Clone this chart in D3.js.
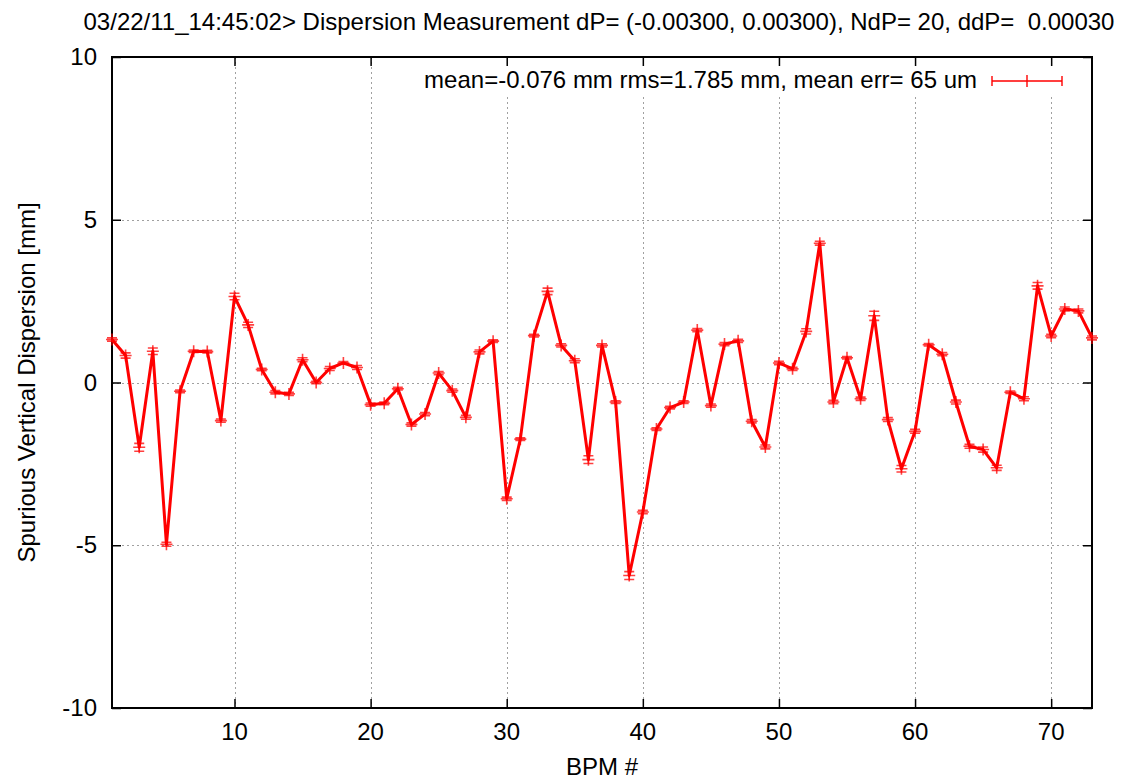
<!DOCTYPE html>
<html>
<head>
<meta charset="utf-8">
<script src="https://cdn.jsdelivr.net/npm/d3@7"></script>
<style>
  body { margin: 0; background: #fff; }
  svg { font-family: "Liberation Sans", Arial, sans-serif; }
</style>
</head>
<body>
<div id="chart"></div>
<script>
// BPM index and measured spurious vertical dispersion [mm]
const bpm = d3.range(1, 74);
const dispersion = [
  1.32, 0.83, -1.99, 0.96, -4.97, -0.27, 0.96, 0.95, -1.17, 2.64,
  1.77, 0.40, -0.30, -0.35, 0.70, 0.00, 0.43, 0.60, 0.46, -0.68,
  -0.64, -0.19, -1.29, -0.97, 0.29, -0.25, -1.07, 0.94, 1.27, -3.57,
  -1.74, 1.44, 2.80, 1.14, 0.67, -2.37, 1.14, -0.60, -5.93, -3.98,
  -1.43, -0.77, -0.60, 1.61, -0.71, 1.18, 1.28, -1.19, -1.98, 0.60,
  0.42, 1.57, 4.28, -0.60, 0.76, -0.50, 2.05, -1.14, -2.65, -1.50,
  1.16, 0.87, -0.60, -1.96, -2.06, -2.62, -0.30, -0.50, 2.97, 1.43,
  2.26, 2.20, 1.37
];
const errors = [
  0.05, 0.08, 0.12, 0.10, 0.06, 0.04, 0.04, 0.04, 0.05, 0.10,
  0.08, 0.04, 0.05, 0.05, 0.06, 0.04, 0.06, 0.04, 0.06, 0.05,
  0.04, 0.04, 0.05, 0.05, 0.05, 0.05, 0.06, 0.06, 0.04, 0.05,
  0.04, 0.04, 0.10, 0.05, 0.06, 0.12, 0.05, 0.04, 0.12, 0.05,
  0.04, 0.04, 0.04, 0.05, 0.05, 0.05, 0.05, 0.05, 0.06, 0.05,
  0.05, 0.08, 0.06, 0.05, 0.04, 0.05, 0.14, 0.06, 0.10, 0.06,
  0.04, 0.05, 0.06, 0.06, 0.08, 0.08, 0.04, 0.06, 0.10, 0.05,
  0.06, 0.06, 0.06
];
const xTicks = [10, 20, 30, 40, 50, 60, 70];
const yTicks = [-10, -5, 0, 5, 10];

const title = "03/22/11_14:45:02> Dispersion Measurement dP= (-0.00300, 0.00300), NdP= 20, ddP=  0.00030";
const legendLabel = "mean=-0.076 mm rms=1.785 mm, mean err= 65 um";

const width = 1140, height = 780;
const margin = { top: 57, right: 48, bottom: 72, left: 112 };
const fs = 24;

const x = d3.scaleLinear().domain([1, 73]).range([margin.left, width - margin.right]);
const y = d3.scaleLinear().domain([-10, 10]).range([height - margin.bottom, margin.top]);

const svg = d3.select('#chart').append('svg')
  .attr('width', width)
  .attr('height', height);

// grid
const grid = svg.append('g').attr('stroke', '#a0a0a0').attr('stroke-width', 1)
  .attr('stroke-dasharray', '2,3');
grid.selectAll('.gx').data(xTicks).join('line')
  .attr('x1', d => Math.round(x(d)) + 0.5).attr('x2', d => Math.round(x(d)) + 0.5)
  .attr('y1', y(10)).attr('y2', y(-10));
grid.selectAll('.gy').data(yTicks.filter(d => Math.abs(d) < 10)).join('line')
  .attr('y1', d => Math.round(y(d)) + 0.5).attr('y2', d => Math.round(y(d)) + 0.5)
  .attr('x1', x(1)).attr('x2', x(73));

// legend box background hides the grid behind it
svg.append('rect')
  .attr('x', 408).attr('y', 67).attr('width', 662).attr('height', 28)
  .attr('fill', '#fff');

// axes: ticks inward, mirrored on all sides
const tickLen = 9;
const axisG = svg.append('g');
axisG.append('g')
  .attr('transform', `translate(0,${y(-10)})`)
  .call(d3.axisTop(x).tickValues(xTicks).tickSize(tickLen).tickFormat(''));
axisG.append('g')
  .attr('transform', `translate(0,${y(10)})`)
  .call(d3.axisBottom(x).tickValues(xTicks).tickSize(tickLen).tickFormat(''));
axisG.append('g')
  .attr('transform', `translate(${x(1)},0)`)
  .call(d3.axisRight(y).tickValues(yTicks).tickSize(tickLen).tickFormat(''));
axisG.append('g')
  .attr('transform', `translate(${x(73)},0)`)
  .call(d3.axisLeft(y).tickValues(yTicks).tickSize(tickLen).tickFormat(''));
axisG.selectAll('.domain').remove();
axisG.selectAll('.tick line').attr('stroke', '#000').attr('stroke-width', 1.5);

// tick labels
svg.append('g').selectAll('text').data(xTicks).join('text')
  .attr('x', d => x(d)).attr('y', 740)
  .attr('text-anchor', 'middle')
  .attr('font-size', fs)
  .text(d => d);
svg.append('g').selectAll('text').data(yTicks).join('text')
  .attr('x', 97).attr('y', d => y(d) + 8)
  .attr('text-anchor', 'end')
  .attr('font-size', fs)
  .text(d => d);

// frame
svg.append('rect')
  .attr('x', x(1)).attr('y', y(10))
  .attr('width', x(73) - x(1)).attr('height', y(-10) - y(10))
  .attr('fill', 'none').attr('stroke', '#000').attr('stroke-width', 2);

// titles
svg.append('text')
  .attr('x', 599).attr('y', 30)
  .attr('text-anchor', 'middle').attr('font-size', fs)
  .attr('xml:space', 'preserve')
  .text(title);
svg.append('text')
  .attr('x', 602).attr('y', 775)
  .attr('text-anchor', 'middle').attr('font-size', fs)
  .text('BPM #');
svg.append('text')
  .attr('transform', `translate(35,${y(0)}) rotate(-90)`)
  .attr('text-anchor', 'middle').attr('font-size', fs)
  .text('Spurious Vertical Dispersion [mm]');

// data
const pts = bpm.map((b, i) => ({ b, v: dispersion[i], e: errors[i] }));
const red = '#ff0000';

const line = d3.line().x(d => x(d.b)).y(d => y(d.v));
svg.append('path')
  .datum(pts)
  .attr('fill', 'none')
  .attr('stroke', red)
  .attr('stroke-width', 3)
  .attr('stroke-linejoin', 'round')
  .attr('d', line);

const cap = 5;
const bars = svg.append('g').attr('stroke', red).attr('stroke-width', 1.6).attr('stroke-opacity', 0.75);
bars.selectAll('.eb').data(pts).join('path')
  .attr('fill', 'none')
  .attr('d', d => {
    const cx = x(d.b), y0 = y(d.v - d.e), y1 = y(d.v + d.e);
    return `M${cx},${y0}V${y1}M${cx - cap},${y0}H${cx + cap}M${cx - cap},${y1}H${cx + cap}`;
  });
bars.selectAll('.pt').data(pts).join('path')
  .attr('fill', 'none')
  .attr('d', d => {
    const cx = x(d.b), cy = y(d.v);
    return `M${cx - 6},${cy}H${cx + 6}M${cx},${cy - 6}V${cy + 6}`;
  });

// legend
svg.append('text')
  .attr('x', 977).attr('y', 88)
  .attr('text-anchor', 'end').attr('font-size', fs)
  .text(legendLabel);
const lg = svg.append('g').attr('stroke', red).attr('stroke-width', 1.4).attr('fill', 'none');
lg.append('path').attr('d', 'M992,81H1062M992,76V86M1062,76V86');
lg.append('path').attr('d', 'M1027,75V87');
</script>
</body>
</html>
